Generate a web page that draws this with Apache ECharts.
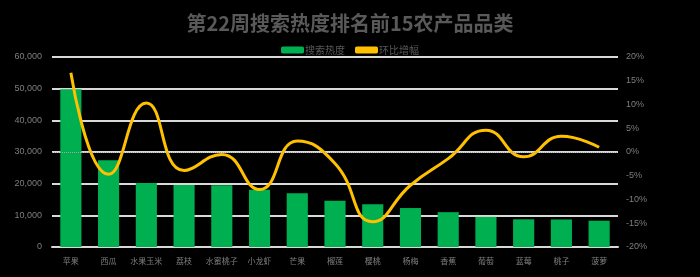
<!DOCTYPE html>
<html><head><meta charset="utf-8">
<script src="https://cdn.jsdelivr.net/npm/echarts@6/dist/echarts.min.js"></script>
<style>html,body{margin:0;padding:0;background:#000;}#c{width:700px;height:277px;}</style>
</head><body><div id="c"></div>
<script>
const titleText = '第22周搜索热度排名前15农产品品类';
const categories = ['苹果','西瓜','水果玉米','荔枝','水蜜桃子','小龙虾','芒果','榴莲','樱桃','杨梅','香蕉','葡萄','蓝莓','桃子','菠萝'];
const heatValues = [49800, 27400, 20200, 19600, 19500, 18100, 17000, 14600, 13500, 12300, 11000, 9500, 8750, 8700, 8300];
const growthValues = [16.7, -4.7, 10.3, -3.9, -0.5, -7.9, 2.3, -2.4, -14.7, -7.0, -1.4, 4.6, -1.0, 3.3, 1.0];
const leftTicks = {min: 0, max: 60000, interval: 10000};
const rightTicks = {min: -20, max: 20, interval: 5};

const chart = echarts.init(document.getElementById('c'));
const labelColor = '#7f7f7f';
chart.setOption({
  backgroundColor: '#000',
  animation: false,
  title: {text: titleText, left: 'center', top: 8, textStyle: {color: '#595959', fontSize: 20, fontWeight: 'bold', fontFamily: 'Noto Sans CJK SC'}},
  legend: {top: 40, left: 'center', itemWidth: 23, itemHeight: 7, itemGap: 10, icon: 'roundRect',
    textStyle: {color: '#595959', fontSize: 10, fontFamily: 'Noto Sans CJK SC', padding: [0,0,0,-4]},
    data: ['搜索热度', '环比增幅']},
  grid: {left: 52, right: 82, top: 57, bottom: 30},
  xAxis: {type: 'category', data: categories,
    axisLine: {lineStyle: {color: '#d9d9d9', width: 2}}, axisTick: {show: false},
    axisLabel: {color: labelColor, fontSize: 8, margin: 10, interval: 0, fontFamily: 'Noto Sans CJK SC'}},
  yAxis: [
    {type: 'value', min: leftTicks.min, max: leftTicks.max, interval: leftTicks.interval,
      axisLine: {show: false}, axisTick: {show: false},
      axisLabel: {color: labelColor, fontSize: 9, margin: 10, formatter: v => v.toLocaleString('en-US')},
      splitLine: {lineStyle: {color: '#d9d9d9', width: 2}}},
    {type: 'value', min: rightTicks.min, max: rightTicks.max, interval: rightTicks.interval,
      axisLine: {show: false}, axisTick: {show: false}, splitLine: {show: false},
      axisLabel: {color: labelColor, fontSize: 9, margin: 8, formatter: v => v + '%'}}
  ],
  series: [
    {name: '搜索热度', type: 'bar', data: heatValues, barWidth: '56%', itemStyle: {color: '#00b050'}},
    {name: '环比增幅', type: 'line', yAxisIndex: 1, data: growthValues, smooth: 0.5, showSymbol: false, symbol: 'none',
      lineStyle: {color: '#ffc000', width: 3}, itemStyle: {color: '#ffc000'},
      markLine: {silent: true, symbol: 'none', label: {show: false},
        lineStyle: {color: '#a6a6a6', type: 'dotted', width: 1}, data: [{yAxis: 0}]}}
  ]
});
</script></body></html>
